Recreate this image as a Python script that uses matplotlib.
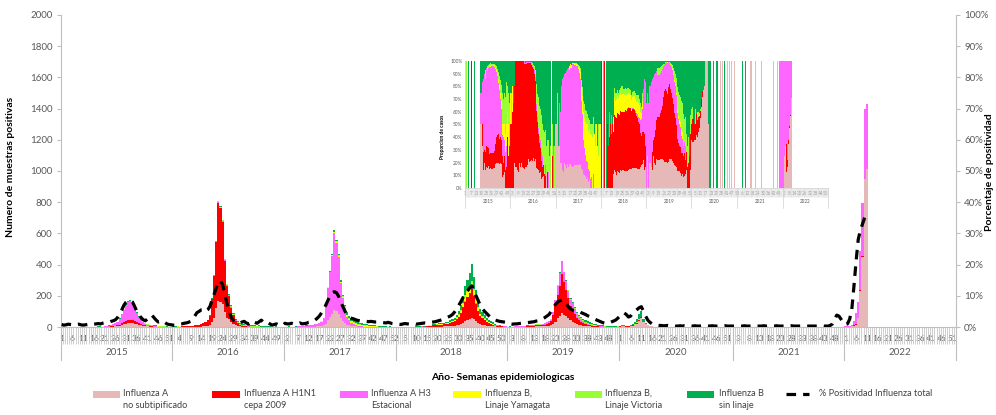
import numpy as np
import matplotlib
matplotlib.use('Agg')
import matplotlib.pyplot as plt
from matplotlib.transforms import blended_transform_factory as btf
from matplotlib.patches import Rectangle
from matplotlib.lines import Line2D

plt.rcParams['font.family'] = ['Lato', 'DejaVu Sans']

years = [2015, 2016, 2017, 2018, 2019, 2020, 2021, 2022]
weeks_per_year = [52, 52, 52, 52, 52, 53, 52, 52]

# Influenza A no subtipificado
flu_a_ns = [
    # 2015
    0,0,0,0,0,0,0,0,0,0, 0,0,0,0,0,0,0,2,2,1, 2,1,2,2,3,4,6,9,13,18, 22,25,27,25,22,18,14,10,7,5, 4,3,2,1,1,1,0,0,0,0, 0,0,
    # 2016
    0,0,0,0,1,1,1,1,1,1, 2,2,3,3,4,5,7,12,30,60, 125,165,160,145,95,60,50,30,20,10, 6,4,3,2,2,1,1,1,1,0, 0,1,0,0,1,0,0,0,0,0, 0,1,
    # 2017
    1,1,2,1,1,1,1,1,1,1, 2,2,2,3,3,4,5,7,10,22, 45,65,85,110,100,85,55,38,25,14, 10,7,5,4,3,2,2,1,1,1, 0,0,0,0,0,0,0,0,0,0, 0,0,
    # 2018
    0,0,0,0,0,0,0,0,0,0, 0,0,0,0,1,2,2,2,2,3, 3,3,4,4,5,6,7,8,11,14, 19,28,38,45,52,60,50,38,26,18, 15,12,9,7,6,5,4,3,2,2, 1,1,
    # 2019
    0,1,0,1,1,1,1,1,2,2, 2,3,3,4,4,4,5,6,7,9, 11,20,35,55,70,88,80,70,55,42, 35,26,18,14,11,8,6,5,4,3, 2,2,1,1,1,1,1,0,0,0, 1,1,
    # 2020
    3,4,4,3,3,5,7,12,22,40, 55,32,18,10,6,4,3,2,1,1, 0,0,0,0,0,0,0,0,0,0, 0,0,0,1,0,1,0,0,0,0, 0,1,0,1,0,0,1,0,0,1, 0,0,0,
    # 2021
    0,0,0,0,0,0,0,0,0,0, 0,0,0,0,1,0,1,0,0,0, 1,0,0,0,0,0,0,1,0,0, 0,0,0,0,0,0,0,0,0,0, 0,1,0,0,0,1,0,0,0,0, 0,0,
    # 2022
    0,0,2,5,5,15,55,230,450,950, 1010,0,0,0,0,0,0,0,0,0, 0,0,0,0,0,0,0,0,0,0, 0,0,0,0,0,0,0,0,0,0, 0,0,0,0,0,0,0,0,0,0, 0,0,
]

# Influenza A H1N1 cepa 2009
flu_h1n1 = [
    # 2015
    0,0,0,0,0,0,0,1,0,0, 0,0,0,0,0,0,0,0,0,0, 1,1,1,2,3,4,5,7,10,14, 18,20,20,20,18,15,14,11,8,5, 4,3,2,2,1,1,1,1,2,1, 1,1,
    # 2016
    2,2,3,2,3,4,5,5,6,7, 8,10,12,15,20,27,38,60,150,270, 420,630,600,530,330,205,150,95,55,30, 17,10,6,4,3,2,2,1,1,1, 1,0,1,0,0,0,0,0,1,0, 0,0,
    # 2017
    0,0,0,0,0,0,0,0,0,0, 0,0,0,0,0,0,0,0,0,0, 0,0,0,0,0,0,0,0,0,0, 0,0,0,0,0,0,0,0,0,0, 0,0,0,0,0,0,0,0,0,0, 0,0,
    # 2018
    1,0,1,0,1,0,0,1,1,2, 2,2,3,3,3,6,7,8,9,10, 11,12,13,14,16,19,23,28,38,50, 68,98,125,145,165,185,150,112,75,50, 40,32,24,18,14,8,5,4,3,2, 2,1,
    # 2019
    0,0,0,0,0,0,0,1,1,2, 3,4,5,6,6,6,8,10,13,18, 25,55,100,150,190,250,210,170,130,95, 80,60,40,30,22,16,11,8,6,5, 4,3,3,2,2,1,1,1,1,1, 1,2,
    # 2020
    1,2,2,1,1,2,3,4,6,8, 6,3,1,0,0,0,0,0,0,0, 0,0,0,0,0,0,0,0,0,0, 0,0,0,0,0,0,0,0,0,0, 0,0,0,0,0,0,0,0,0,0, 0,0,0,
    # 2021
    0,0,0,0,0,0,0,0,0,0, 0,0,0,0,0,0,0,0,0,0, 0,0,0,0,0,0,0,0,0,0, 0,0,0,0,0,0,0,0,0,0, 0,0,0,0,0,0,0,0,0,0, 0,0,
    # 2022
    0,0,0,0,9,5,5,5,5,0, 0,0,0,0,0,0,0,0,0,0, 0,0,0,0,0,0,0,0,0,0, 0,0,0,0,0,0,0,0,0,0, 0,0,0,0,0,0,0,0,0,0, 0,0,
]

# Influenza A H3 estacional
flu_h3 = [
    # 2015
    0,0,0,0,0,0,0,0,0,0, 0,0,0,0,0,0,0,1,1,1, 2,4,6,8,11,15,22,36,58,78, 99,113,118,103,79,56,36,23,14,10, 6,4,3,2,2,1,1,1,0,0, 0,0,
    # 2016
    0,0,0,0,0,0,0,0,0,0, 0,0,0,0,0,0,1,1,2,3, 4,5,5,5,5,5,4,4,3,3, 2,1,1,1,1,1,0,1,0,0, 1,0,0,1,0,0,0,0,0,1, 0,0,
    # 2017
    0,0,0,0,1,2,3,4,5,6, 7,8,10,12,14,17,20,28,45,105, 208,285,370,490,440,365,225,148,95,50, 32,20,12,8,5,4,3,2,2,1, 1,1,0,1,0,0,0,0,0,0, 0,0,
    # 2018
    0,0,0,1,0,0,0,0,0,1, 0,0,1,0,0,0,0,0,0,0, 0,0,0,0,0,0,0,0,0,0, 1,1,1,1,1,2,2,2,2,2, 2,2,2,2,2,3,3,3,3,3, 3,3,
    # 2019
    2,2,2,3,3,3,4,4,4,5, 5,5,6,6,6,6,7,8,9,11, 12,20,35,60,85,82,60,55,45,37, 36,30,24,20,16,12,9,7,5,4, 3,2,2,1,1,1,0,0,0,0, 0,0,
    # 2020
    0,0,0,0,0,0,0,0,0,0, 0,0,0,0,0,0,0,0,0,0, 0,0,0,0,0,0,0,0,0,0, 0,0,0,0,0,0,0,0,0,0, 0,0,0,0,0,0,0,0,0,0, 0,0,0,
    # 2021
    0,0,0,0,0,0,0,0,0,0, 0,0,0,0,0,0,0,0,0,0, 0,0,0,0,0,0,0,0,0,0, 0,0,0,0,0,0,0,0,0,0, 0,0,0,0,0,0,0,0,1,2, 2,3,
    # 2022
    4,4,6,10,26,70,100,250,340,450, 420,0,0,0,0,0,0,0,0,0, 0,0,0,0,0,0,0,0,0,0, 0,0,0,0,0,0,0,0,0,0, 0,0,0,0,0,0,0,0,0,0, 0,0,
]

# Influenza B, linaje Yamagata
flu_b_yam = [
    # 2015
    1,0,0,0,0,0,0,0,0,0, 0,0,0,0,0,0,0,0,0,0, 0,0,0,0,0,0,0,1,1,1, 1,1,1,1,1,1,1,1,1,1, 1,1,1,1,1,1,1,1,1,1, 1,0,
    # 2016
    1,0,1,0,0,0,0,0,0,0, 0,0,0,0,0,0,0,0,0,0, 0,2,0,0,0,0,0,0,0,0, 0,0,0,0,0,0,0,0,0,0, 0,0,0,0,0,0,0,0,0,0, 0,0,
    # 2017
    0,0,0,0,0,0,0,0,0,0, 0,0,0,0,0,0,1,1,1,1, 2,3,4,6,6,6,7,8,8,10, 10,10,10,9,8,8,7,6,6,5, 5,4,4,3,3,2,2,2,1,1, 1,1,
    # 2018
    0,0,0,0,0,0,0,0,0,0, 0,0,0,0,1,2,2,3,3,3, 3,4,4,4,5,6,7,8,10,13, 16,22,28,32,34,35,28,22,16,11, 9,7,6,5,4,2,1,1,0,0, 0,0,
    # 2019
    0,0,0,0,0,0,0,0,0,0, 0,0,0,0,0,0,0,0,0,0, 0,0,0,0,0,0,0,1,1,1, 1,1,1,1,1,1,1,1,1,1, 1,1,0,0,0,0,0,0,0,0, 0,0,
    # 2020
    0,0,0,0,0,0,0,0,0,0, 0,0,0,0,0,0,0,0,0,0, 0,0,0,0,0,0,0,0,0,0, 0,0,0,0,0,0,0,0,0,0, 0,0,0,0,0,0,0,0,0,0, 0,0,0,
    # 2021
    0,0,0,0,0,0,0,0,0,0, 0,0,0,0,0,0,0,0,0,0, 0,0,0,0,0,0,0,0,0,0, 0,0,0,0,0,0,0,0,0,0, 0,0,0,0,0,0,0,0,0,0, 0,0,
    # 2022
    0,0,0,0,0,0,0,0,0,0, 0,0,0,0,0,0,0,0,0,0, 0,0,0,0,0,0,0,0,0,0, 0,0,0,0,0,0,0,0,0,0, 0,0,0,0,0,0,0,0,0,0, 0,0,
]

# Influenza B, linaje Victoria
flu_b_vic = [
    # 2015
    0,1,0,0,0,0,0,0,0,0, 0,0,0,0,0,0,0,0,0,0, 0,0,0,1,0,1,1,1,1,2, 2,2,2,2,2,2,2,2,2,2, 2,2,3,3,2,2,2,2,1,1, 0,1,
    # 2016
    0,1,0,0,0,0,0,0,0,0, 0,0,0,0,0,0,0,0,0,0, 0,3,3,3,3,3,4,4,5,5, 6,5,5,4,4,4,3,3,3,3, 3,2,2,2,2,1,1,0,1,0, 1,0,
    # 2017
    0,0,1,0,0,0,0,0,0,0, 0,0,0,0,0,0,0,0,0,0, 0,1,3,4,4,4,4,3,4,5, 5,4,4,4,3,3,2,2,1,1, 1,1,1,1,0,1,0,0,0,1, 0,0,
    # 2018
    0,0,0,0,0,0,0,0,0,0, 0,0,0,0,0,1,1,1,1,1, 1,1,1,2,2,2,2,3,4,5, 6,8,10,12,13,15,12,9,7,5, 4,4,3,3,2,2,1,1,1,0, 0,0,
    # 2019
    0,0,0,0,0,0,0,0,0,0, 0,0,1,1,1,1,1,1,1,1, 1,1,1,2,2,2,2,2,3,4, 5,6,7,7,8,8,8,7,6,5, 5,4,3,3,2,2,1,1,1,0, 1,1,
    # 2020
    1,1,0,0,1,0,1,2,2,2, 1,0,0,0,0,0,0,0,0,0, 0,0,0,0,0,0,0,0,0,0, 0,0,0,0,0,0,0,0,0,0, 0,0,0,0,0,0,0,0,0,0, 0,0,0,
    # 2021
    0,0,0,0,0,0,0,0,0,0, 0,0,0,0,0,0,0,0,0,0, 0,0,0,0,0,0,0,0,0,0, 0,0,0,0,0,0,0,0,0,0, 0,0,0,0,0,0,0,0,0,0, 0,0,
    # 2022
    0,0,0,0,0,0,0,0,0,0, 0,0,0,0,0,0,0,0,0,0, 0,0,0,0,0,0,0,0,0,0, 0,0,0,0,0,0,0,0,0,0, 0,0,0,0,0,0,0,0,0,0, 0,0,
]

# Influenza B sin linaje
flu_b_nl = [
    # 2015
    0,0,0,0,1,0,0,0,0,0, 1,0,0,0,0,0,0,1,1,1, 1,1,1,1,1,1,1,1,2,2, 3,4,4,4,3,3,3,3,3,3, 3,3,3,3,3,2,2,1,1,1, 1,1,
    # 2016
    1,1,1,1,1,0,0,0,0,0, 0,0,0,0,0,0,0,1,2,3, 4,5,5,5,5,5,6,6,6,6, 7,7,6,6,6,6,7,6,6,5, 6,6,5,5,4,3,2,0,2,2, 2,1,
    # 2017
    1,1,1,2,1,2,1,1,1,1, 1,1,1,1,1,1,1,1,2,2, 4,6,8,10,10,10,9,8,8,14, 15,15,14,13,12,11,10,9,8,7, 7,6,5,4,4,3,3,2,2,2, 1,1,
    # 2018
    0,0,1,0,0,0,1,1,2,2, 2,2,3,3,4,3,4,4,5,5, 6,6,6,6,7,9,11,13,17,23, 30,43,58,65,80,108,78,57,39,29, 25,21,16,13,12,10,8,4,3,2, 1,1,
    # 2019
    1,1,1,1,1,1,1,1,1,1, 1,1,1,1,1,1,1,1,1,1, 1,2,2,2,3,3,3,2,3,4, 5,7,8,8,9,9,9,9,8,7, 7,6,6,5,5,4,4,4,3,3, 3,3,
    # 2020
    3,4,5,4,3,5,7,12,20,35, 38,15,6,3,1,1,0,0,0,1, 1,0,1,0,0,1,0,0,1,0, 1,0,0,0,0,0,0,0,1,0, 0,0,0,0,0,0,0,0,0,0, 0,0,0,
    # 2021
    0,0,0,0,0,1,0,0,0,1, 0,0,0,0,0,0,0,0,0,0, 0,0,0,0,0,0,0,0,0,0, 0,0,0,0,0,0,0,0,0,0, 0,0,0,0,0,0,0,0,0,0, 0,0,
    # 2022
    0,0,0,0,0,0,0,0,0,0, 0,0,0,0,0,0,0,0,0,0, 0,0,0,0,0,0,0,0,0,0, 0,0,0,0,0,0,0,0,0,0, 0,0,0,0,0,0,0,0,0,0, 0,0,
]

nan = float('nan')
# % Positividad influenza total
positivity = [
    # 2015
    0.8,0.6,0.7,0.9,0.8,0.7,0.6,0.8,0.9,0.7, 0.6,0.7,0.8,0.6,0.7,0.9,1.0,1.1,1.0,1.2,
    1.3,1.4,1.5,1.8,2.0,2.3,3.0,4.2,5.5,7.0, 8.0,8.6,8.5,8.0,6.6,5.0,3.9,3.0,2.3,2.0,
    2.6,3.5,3.8,3.0,2.2,1.6,1.8,2.0,1.5,1.0, 0.8,0.7,
    # 2016
    0.6,0.6,0.8,0.9,1.0,1.2,1.3,1.5,1.8,2.5, 3.5,4.6,5.0,5.5,5.6,5.0,5.5,6.5,8.5,10.5,
    12.5,14.5,14.8,13.5,10.5,7.5,5.0,3.0,2.2,1.6, 1.2,1.2,1.6,1.8,1.3,1.0,1.5,2.0,1.5,1.2,
    1.7,2.2,1.5,1.2,1.5,1.0,0.6,0.8,1.0,0.7, 0.6,0.5,
    # 2017
    1.2,1.0,1.0,1.2,1.0,0.9,1.0,1.3,1.0,1.1, 1.2,1.5,1.6,1.8,2.2,2.8,3.5,4.5,5.5,7.0,
    8.5,10.0,11.0,11.3,11.0,9.8,8.0,6.5,5.0,3.8, 3.2,2.8,2.6,2.3,2.1,2.0,2.0,1.8,1.8,1.7,
    1.8,1.7,1.6,1.6,1.5,1.5,1.4,1.3,1.5,1.3, 1.1,1.0,
    # 2018
    1.0,0.9,0.8,1.0,1.1,1.0,0.9,1.0,1.1,0.9, 1.0,1.1,1.2,1.3,1.2,1.4,1.5,1.6,1.7,1.9,
    2.1,2.3,2.6,2.9,3.2,3.5,4.0,4.8,5.8,7.0, 8.2,9.5,10.5,11.5,12.5,13.2,12.0,10.0,8.5,6.8,
    5.8,5.0,4.3,3.6,3.0,2.6,2.2,2.0,1.8,1.7, 1.6,1.5,
    # 2019
    1.0,1.0,0.9,1.0,1.0,1.1,1.2,1.2,1.3,1.4, 1.5,1.6,1.7,1.9,2.0,2.3,2.6,3.0,3.5,4.0,
    5.0,6.2,7.2,8.0,8.4,8.6,8.5,7.6,6.5,5.8, 5.4,5.3,5.2,5.0,4.6,4.3,4.0,3.6,3.3,3.0,
    2.6,2.3,2.0,1.7,1.4,1.2,1.1,1.3,1.6,1.9, 2.2,2.8,
    # 2020
    3.5,4.3,4.5,4.0,3.2,3.5,4.5,5.0,5.6,6.2, 6.5,5.0,3.5,2.2,1.5,1.0,0.8,0.6,0.5,0.5,
    0.4,0.4,0.5,0.4,0.3,0.4,0.3,0.3,0.4,0.3, 0.4,0.3,0.3,0.4,0.3,0.4,0.3,0.3,0.4,0.3,
    0.3,0.4,0.3,0.4,0.3,0.3,0.4,0.3,0.3,0.4, 0.3,0.3,0.3,
    # 2021
    0.3,0.3,0.2,0.3,0.3,0.4,0.3,0.3,0.3,0.4, 0.3,0.3,0.3,0.3,0.4,0.3,0.4,0.3,0.3,0.3,
    0.4,0.3,0.3,0.3,0.3,0.3,0.3,0.4,0.3,0.3, 0.3,0.3,0.3,0.3,0.3,0.3,0.3,0.3,0.3,0.3,
    0.3,0.4,0.3,0.3,0.3,0.5,1.0,2.5,3.8,3.5, 2.5,1.5,
    # 2022
    0.8,1.0,2.5,5.5,13.0,21.0,28.0,31.0,33.0,35.0, 36.5,nan,nan,nan,nan,nan,nan,nan,nan,nan,
    nan,nan,nan,nan,nan,nan,nan,nan,nan,nan, nan,nan,nan,nan,nan,nan,nan,nan,nan,nan,
    nan,nan,nan,nan,nan,nan,nan,nan,nan,nan, nan,nan,
]

series_labels = ['Influenza A\nno subtipificado', 'Influenza A H1N1\ncepa 2009',
                 'Influenza A H3\nEstacional', 'Influenza B,\nLinaje Yamagata',
                 'Influenza B,\nLinaje Victoria', 'Influenza B\nsin linaje']
line_label = '% Positividad Influenza total'
colors = ['#E6B9B8', '#FF0000', '#FF66FF', '#FFFF00', '#99FF33', '#00B050']

series = [np.array(s, dtype=float) for s in
          [flu_a_ns, flu_h1n1, flu_h3, flu_b_yam, flu_b_vic, flu_b_nl]]
pos = np.array(positivity, dtype=float)

week_no = [w for n in weeks_per_year for w in range(1, n + 1)]
n_total = len(week_no)
x = np.arange(n_total)
for s in series:
    assert len(s) == n_total, len(s)
assert len(pos) == n_total
year_start = np.concatenate([[0], np.cumsum(weeks_per_year)])

W, H = 996, 415
fig = plt.figure(figsize=(W / 100, H / 100), dpi=100)

def fx(px):
    return px / W

def fy(py):
    return (H - py) / H

TXT = '#595959'
GRID = '#BFBFBF'

# ---------------- main axes ----------------
L, R, T, B = 60.6, 955.9, 15, 327
ax = fig.add_axes([fx(L), fy(B), fx(R - L), (B - T) / H])
bottom = np.zeros(n_total)
for s, c in zip(series, colors):
    ax.bar(x, s, width=1.0, bottom=bottom, color=c, linewidth=0, zorder=2)
    bottom += s
ax.set_xlim(-0.5, n_total - 0.5)
ax.set_ylim(0, 2000)
ax.set_yticks(np.arange(0, 2001, 200))
ax.tick_params(axis='y', direction='out', length=3, width=0.8, color=GRID,
               labelsize=7, labelcolor=TXT, pad=3)
major = [i for i in x if i % 5 == 0]
ax.set_xticks(major)
ax.set_xticklabels([str(week_no[i]) for i in major])
ax.set_xticks(np.arange(-0.5, n_total, 1.0), minor=True)
ax.tick_params(axis='x', which='major', length=0, labelsize=6.0, labelcolor=TXT, pad=5.5)
ax.tick_params(axis='x', which='minor', length=12, width=0.6, color='#C8C8C8')
for sp in ['top', 'right']:
    ax.spines[sp].set_visible(False)
for sp in ['left', 'bottom']:
    ax.spines[sp].set_color(GRID)
    ax.spines[sp].set_linewidth(0.8)

tr = btf(ax.transData, ax.transAxes)
for b in year_start:
    ax.plot([b - 0.5, b - 0.5], [0, -0.107], transform=tr, color=GRID, lw=0.8,
            clip_on=False)
for i, yr in enumerate(years):
    c = (year_start[i] + year_start[i + 1] - 1) / 2
    ax.text(c, -0.083, str(yr), transform=tr, ha='center', va='center',
            fontsize=7, color=TXT)

ax.set_ylabel('Numero de muestras positivas', fontsize=7.5, fontweight='bold',
              color='#000000')
ax.yaxis.set_label_coords(-(L - 15) / (R - L), (B - 167) / (B - T))

# ---------------- positivity line ----------------
ax2 = ax.twinx()
ax2.plot(x, pos, color='black', lw=2.3, linestyle=(0, (3.0, 2.2)), zorder=5)
ax2.set_ylim(0, 100)
ax2.set_yticks(np.arange(0, 101, 10))
ax2.set_yticklabels([f'{v}%' for v in range(0, 101, 10)])
ax2.tick_params(axis='y', direction='out', length=3, width=0.8, color=GRID,
                labelsize=7, labelcolor=TXT, pad=3)
for sp in ['top', 'left', 'bottom']:
    ax2.spines[sp].set_visible(False)
ax2.spines['right'].set_color(GRID)
ax2.spines['right'].set_linewidth(0.8)

fig.text(fx(989.5), fy(172), 'Porcentaje de positividad', rotation=90,
         ha='center', va='center', fontsize=7.5, fontweight='bold')
fig.text(fx(503), fy(377), 'Año- Semanas epidemiologicas', ha='center',
         va='center', fontsize=7.5, fontweight='bold')

# ---------------- legend ----------------
patch_x = [92.6, 212.0, 340.0, 453.0, 574.8, 686.8]
label_x = [123.0, 243.6, 371.0, 485.3, 605.3, 719.0]
for px, lx, lab, c in zip(patch_x, label_x, series_labels, colors):
    fig.patches.append(Rectangle((fx(px), fy(397.5)), fx(27.6), 6.5 / H,
                                 transform=fig.transFigure, facecolor=c,
                                 edgecolor='none'))
    fig.text(fx(lx), fy(388.5), lab, ha='left', va='top', fontsize=6.6,
             color='#404040', linespacing=1.45)
fig.add_artist(Line2D([fx(786), fx(809)], [fy(394), fy(394)], color='black',
                      lw=2.3, linestyle=(0, (3.0, 2.2))))
fig.text(fx(818.8), fy(388.5), line_label, ha='left', va='top', fontsize=6.6,
         color='#404040')

# ---------------- inset: proportion of cases ----------------
iL, iR, iT, iB = 465, 828, 61, 188
axi = fig.add_axes([fx(iL), fy(iB), fx(iR - iL), (iB - iT) / H], zorder=10)
axi.set_facecolor('white')
total = np.sum(series, axis=0)
safe = np.where(total > 0, total, 1)
bot = np.zeros(n_total)
for s, c in zip(series, colors):
    p = np.where(total > 0, s / safe, 0)
    axi.bar(x, p, width=1.0, bottom=bot, color=c, linewidth=0)
    bot += p
axi.set_xlim(-0.5, n_total - 0.5)
axi.set_ylim(0, 1)
axi.set_yticks(np.arange(0, 1.01, 0.1))
axi.set_yticklabels([f'{v}%' for v in range(0, 101, 10)])
axi.tick_params(axis='y', length=0, labelsize=3.4, labelcolor=TXT, pad=2)
imajor = [i for i in x if i % 6 == 0]
axi.set_xticks(imajor)
axi.set_xticklabels([str(week_no[i]) for i in imajor])
axi.set_xticks(np.arange(-0.5, n_total, 1.0), minor=True)
axi.tick_params(axis='x', which='major', length=0, labelsize=3.3, labelcolor=TXT, pad=2)
axi.tick_params(axis='x', which='minor', length=6.5, width=0.4, color='#DCDCDC')
for sp in ['top', 'right']:
    axi.spines[sp].set_visible(False)
for sp in ['left', 'bottom']:
    axi.spines[sp].set_color('#D0D0D0')
    axi.spines[sp].set_linewidth(0.5)
tri = btf(axi.transData, axi.transAxes)
for b in year_start:
    axi.plot([b - 0.5, b - 0.5], [0, -0.16], transform=tri, color='#D0D0D0',
             lw=0.5, clip_on=False)
for i, yr in enumerate(years):
    c = (year_start[i] + year_start[i + 1] - 1) / 2
    axi.text(c, -0.11, str(yr), transform=tri, ha='center', va='center',
             fontsize=3.3, color=TXT)
axi.set_ylabel('Proporcion de casos', fontsize=3.6, fontweight='bold')
axi.yaxis.set_label_coords(-20 / (iR - iL), 0.4)

fig.savefig('out.png', dpi=100)
